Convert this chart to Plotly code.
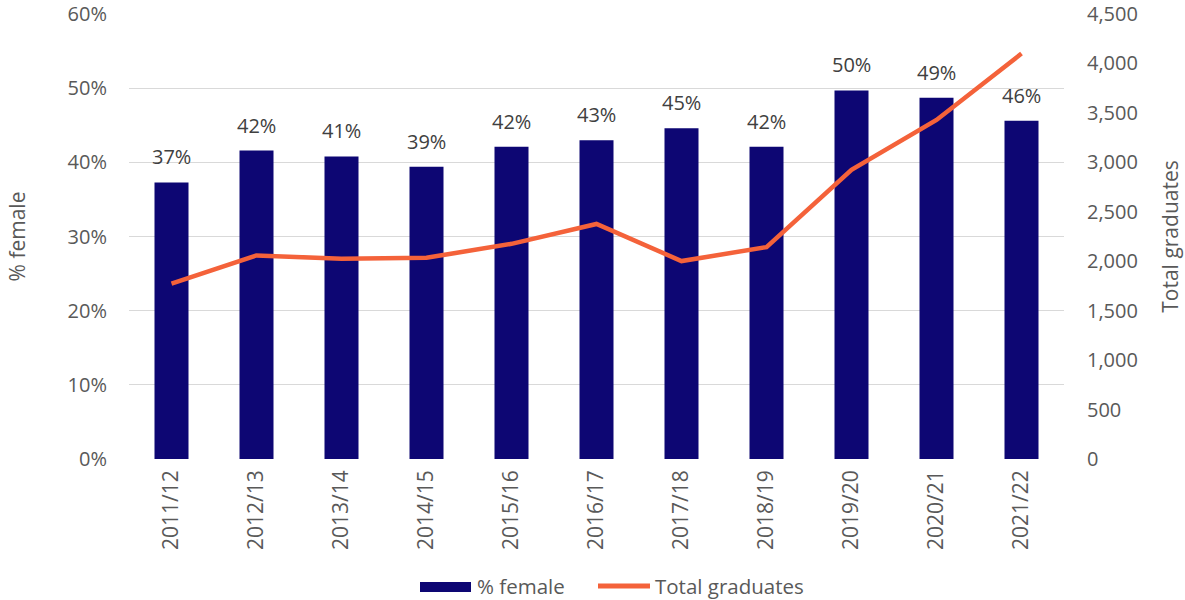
import plotly.graph_objects as go

# Academic years
years = ["2011/12", "2012/13", "2013/14", "2014/15", "2015/16", "2016/17",
         "2017/18", "2018/19", "2019/20", "2020/21", "2021/22"]

# Share of graduates who are female
pct_female = [0.373, 0.416, 0.408, 0.394, 0.421, 0.430, 0.446, 0.421, 0.497, 0.487, 0.456]

# Total number of graduates
total_graduates = [1773, 2059, 2025, 2035, 2176, 2377, 2002, 2143, 2925, 3429, 4100]

NAVY = "#0D0673"
ORANGE = "#F4623A"
GREY_TEXT = "#595959"
LABEL_TEXT = "#404040"
GRID = "#D9D9D9"
FONT = "Open Sans"

# plot-area geometry (pixels) used to place the hand-drawn legend
W, H = 1185, 600
L, R, T, B = 129, 121, 14, 141
PW, PH = W - L - R, H - T - B


def px_x(px):
    return (px - L) / PW


def px_y(py):
    return (H - B - py) / PH


fig = go.Figure()

fig.add_trace(go.Bar(
    x=years, y=pct_female, name="% female",
    marker=dict(color=NAVY, line=dict(width=0)),
    yaxis="y",
))

fig.add_trace(go.Scatter(
    x=years, y=total_graduates, name="Total graduates",
    mode="lines", line=dict(color=ORANGE, width=4.5),
    yaxis="y2",
))

# value labels above each bar
annotations = [
    dict(x=yr, y=v, xref="x", yref="y", text=f"{v:.0%}", showarrow=False,
         yanchor="bottom", yshift=10,
         font=dict(family=FONT, size=20, color=LABEL_TEXT))
    for yr, v in zip(years, pct_female)
]

# legend: keys and labels
legend_y = px_y(586)
shapes = [
    dict(type="rect", xref="paper", yref="paper",
         x0=px_x(420), x1=px_x(471), y0=px_y(592), y1=px_y(582),
         fillcolor=NAVY, line=dict(width=0)),
    dict(type="line", xref="paper", yref="paper",
         x0=px_x(598), x1=px_x(650), y0=legend_y, y1=legend_y,
         line=dict(color=ORANGE, width=5)),
]
annotations += [
    dict(x=px_x(475), y=legend_y, xref="paper", yref="paper", text="% female",
         showarrow=False, xanchor="left", yanchor="middle",
         font=dict(family=FONT, size=20.5, color=GREY_TEXT)),
    dict(x=px_x(653), y=legend_y, xref="paper", yref="paper", text="Total graduates",
         showarrow=False, xanchor="left", yanchor="middle",
         font=dict(family=FONT, size=20.5, color=GREY_TEXT)),
]

fig.update_layout(
    width=W, height=H,
    margin=dict(l=L, r=R, t=T, b=B, autoexpand=False),
    paper_bgcolor="white", plot_bgcolor="white",
    font=dict(family=FONT, color=GREY_TEXT, size=20),
    bargap=0.6,
    showlegend=False,
    shapes=shapes,
    annotations=annotations,
    xaxis=dict(
        tickangle=-90, showgrid=False, showline=False, zeroline=False,
        ticks="", ticklabelstandoff=6,
        tickfont=dict(size=21, color=GREY_TEXT),
    ),
    yaxis=dict(
        range=[0, 0.6001], dtick=0.1, tickformat=".0%",
        showgrid=True, gridcolor=GRID, gridwidth=1.3,
        zeroline=False, showline=False, ticks="",
        ticklabelstandoff=21, ticklabeloverflow="allow",
        tickfont=dict(size=20, color=GREY_TEXT),
        title=dict(text="% female", font=dict(size=21, color=GREY_TEXT), standoff=36),
    ),
    yaxis2=dict(
        overlaying="y", side="right",
        range=[0, 4500.5], dtick=500, tickformat=",",
        showgrid=False, zeroline=False, showline=False, ticks="",
        ticklabelstandoff=22, ticklabeloverflow="allow",
        tickfont=dict(size=20, color=GREY_TEXT),
        title=dict(text="Total graduates", font=dict(size=21, color=GREY_TEXT), standoff=26),
    ),
)

fig.write_html("out.html")
